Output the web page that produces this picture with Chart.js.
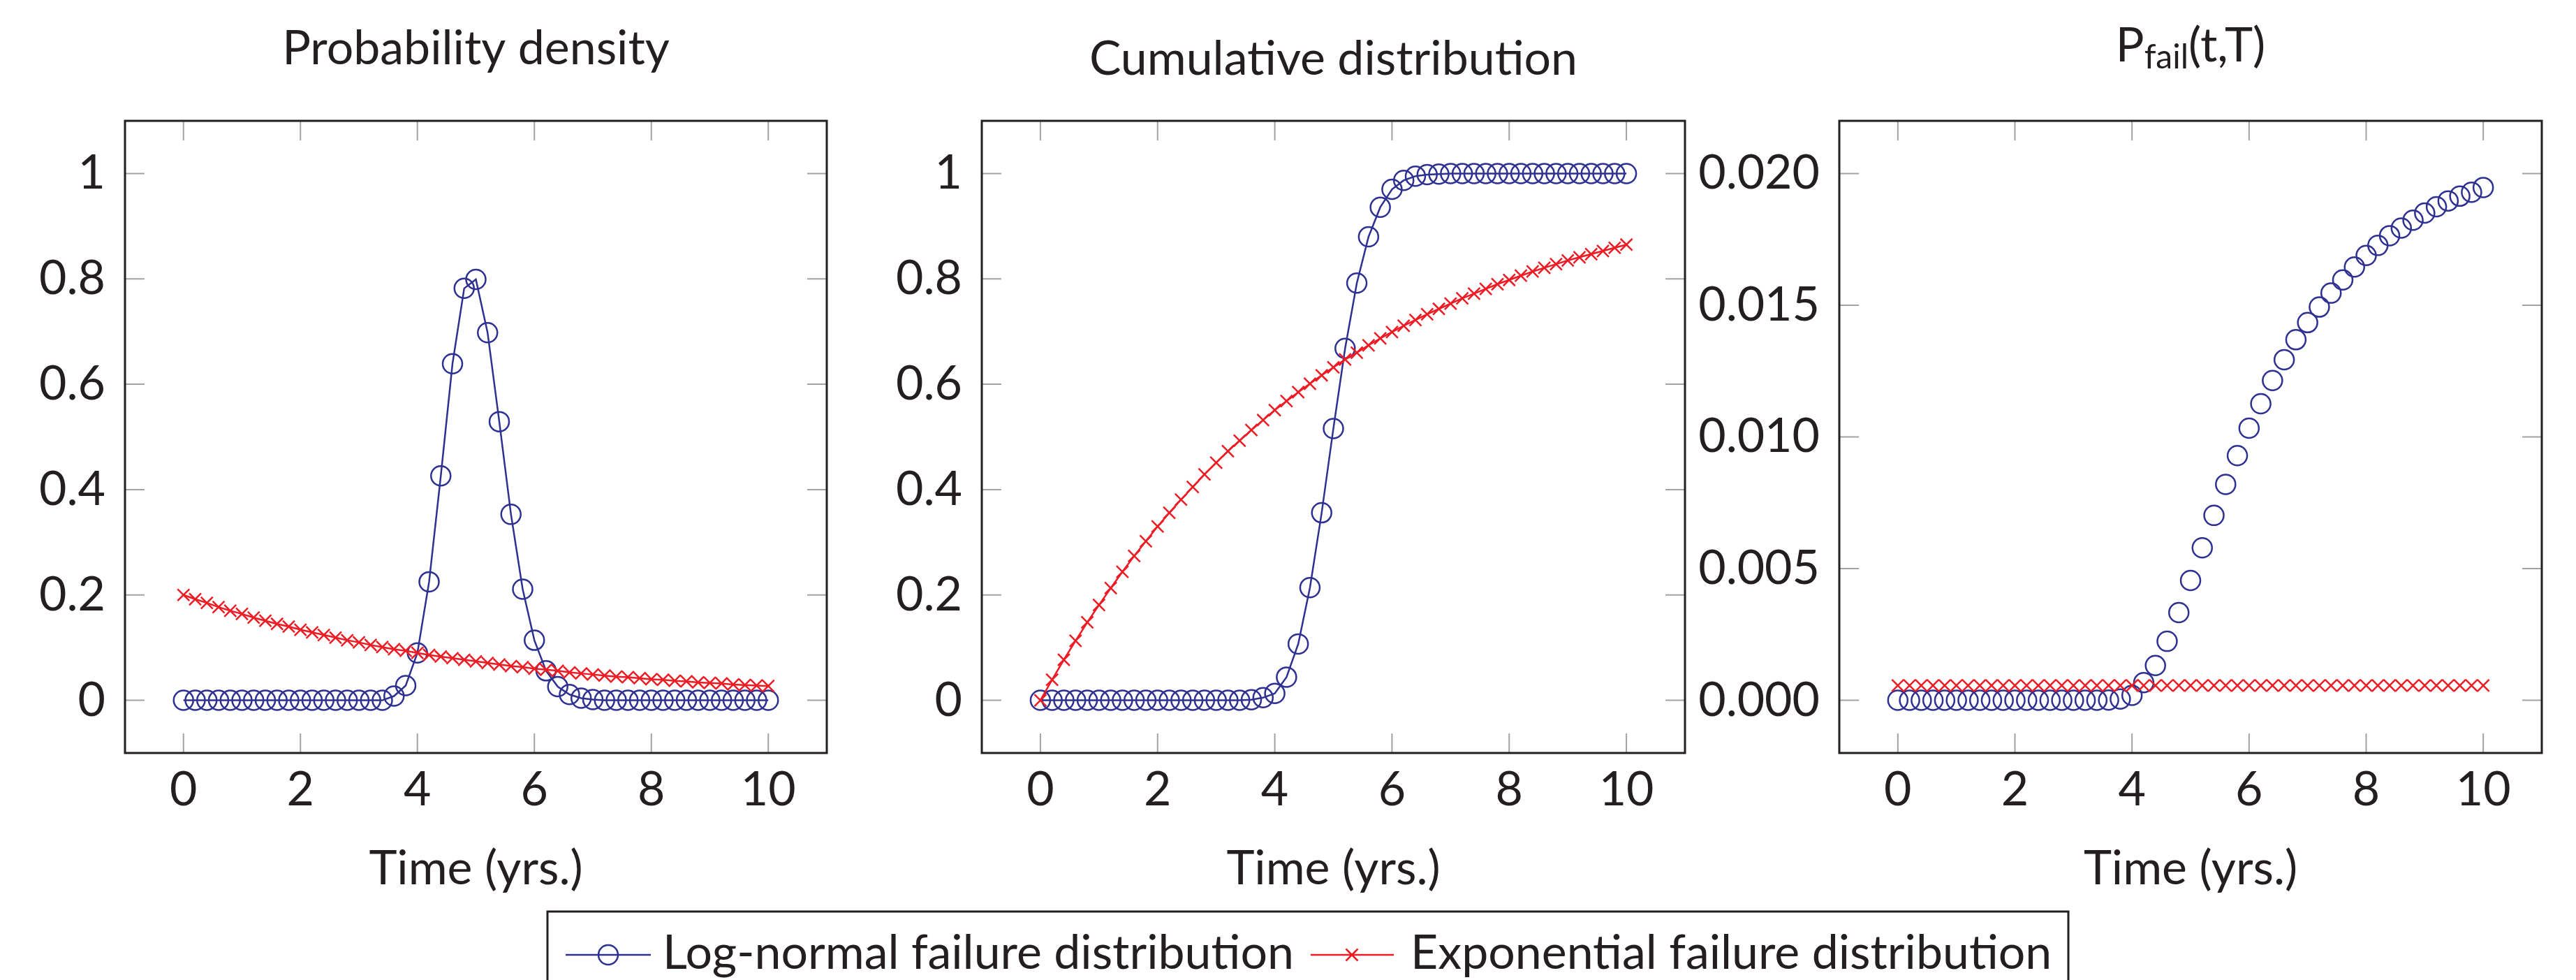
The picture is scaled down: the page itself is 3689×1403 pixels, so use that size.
<!DOCTYPE html>
<html>
<head>
<meta charset="utf-8">
<script src="https://cdn.jsdelivr.net/npm/chart.js@4.4.1/dist/chart.umd.min.js"></script>
<style>
html, body { margin: 0; padding: 0; background: #ffffff; }
body { width: 3689px; height: 1403px; position: relative; overflow: hidden; }
canvas { position: absolute; top: 0; }
svg { position: absolute; left: 0; top: 0; }
</style>
</head>
<body>
<canvas id="c1" width="1228" height="1403" style="left:0px;width:1228px;height:1403px"></canvas>
<canvas id="c2" width="1228" height="1403" style="left:1228px;width:1228px;height:1403px"></canvas>
<canvas id="c3" width="1275" height="1403" style="left:2414px;width:1275px;height:1403px"></canvas>
<svg id="legend" width="3689" height="1403" xmlns="http://www.w3.org/2000/svg"></svg>
<script>
// ---------------- DATA ----------------
const times = [0,0.2,0.4,0.6,0.8,1,1.2,1.4,1.6,1.8,2,2.2,2.4,2.6,2.8,3,3.2,3.4,3.6,3.8,4,4.2,4.4,4.6,4.8,5,5.2,5.4,5.6,5.8,6,6.2,6.4,6.6,6.8,7,7.2,7.4,7.6,7.8,8,8.2,8.4,8.6,8.8,9,9.2,9.4,9.6,9.8,10];

const seriesNames = ['Log-normal failure distribution', 'Exponential failure distribution'];
const panelTitles = ['Probability density', 'Cumulative distribution', 'P_{fail}(t,T)'];
const xAxisTitle = 'Time (yrs.)';

const xTicks = [0, 2, 4, 6, 8, 10];
const yTicksDist = [0, 0.2, 0.4, 0.6, 0.8, 1];
const yTicksPfail = [0, 0.005, 0.01, 0.015, 0.02];

// Probability density
const pdfLogNormal = [0,0,0,0,0,0,0,0,0,0,0,0,0,0,0,0,0,0,0.008,0.028,0.090,0.225,0.426,0.639,0.782,0.799,0.698,0.529,0.353,0.211,0.114,0.056,0.026,0.011,0.004,0.0015,0,0,0,0,0,0,0,0,0,0,0,0,0,0,0];
const pdfExponential = [0.200,0.192,0.185,0.177,0.170,0.164,0.157,0.151,0.145,0.140,0.134,0.129,0.124,0.119,0.114,0.110,0.105,0.101,0.097,0.094,0.090,0.086,0.083,0.080,0.077,0.074,0.071,0.068,0.065,0.063,0.060,0.058,0.056,0.053,0.051,0.049,0.047,0.045,0.044,0.042,0.040,0.039,0.037,0.036,0.034,0.033,0.032,0.030,0.029,0.028,0.027];

// Cumulative distribution
const cdfLogNormal = [0,0,0,0,0,0,0,0,0,0,0,0,0,0,0,0,0,0,0.001,0.005,0.013,0.044,0.107,0.214,0.356,0.516,0.668,0.792,0.880,0.936,0.970,0.987,0.995,0.998,0.999,1,1,1,1,1,1,1,1,1,1,1,1,1,1,1,1];
const cdfExponential = [0,0.039,0.077,0.113,0.148,0.181,0.213,0.244,0.274,0.302,0.330,0.356,0.381,0.405,0.429,0.451,0.473,0.493,0.513,0.532,0.551,0.568,0.585,0.601,0.617,0.632,0.647,0.660,0.674,0.687,0.699,0.711,0.722,0.733,0.743,0.753,0.763,0.772,0.781,0.790,0.798,0.806,0.814,0.821,0.828,0.835,0.841,0.847,0.853,0.859,0.865];

// P_fail(t,T)
const pfailLogNormal = [0,0,0,0,0,0,0,0,0,0,0,0,0,0,0,0,0,0,0.00001,0.00005,0.00019,0.00067,0.00132,0.00224,0.00333,0.00455,0.00579,0.00702,0.0082,0.00929,0.01033,0.01126,0.01214,0.01293,0.01369,0.01434,0.01493,0.01546,0.01596,0.01645,0.01689,0.01727,0.01764,0.01793,0.01823,0.0185,0.01874,0.01896,0.01914,0.01929,0.01947];
const pfailExponential = [0.00056,0.00056,0.00056,0.00056,0.00056,0.00056,0.00056,0.00056,0.00056,0.00056,0.00056,0.00056,0.00056,0.00056,0.00056,0.00056,0.00056,0.00056,0.00056,0.00056,0.00056,0.00056,0.00056,0.00056,0.00056,0.00056,0.00056,0.00056,0.00056,0.00056,0.00056,0.00056,0.00056,0.00056,0.00056,0.00056,0.00056,0.00056,0.00056,0.00056,0.00056,0.00056,0.00056,0.00056,0.00056,0.00056,0.00056,0.00056,0.00056,0.00056,0.00056];

// ---------------- STYLE ----------------
const BLUE = '#2e3192';
const RED = '#ed1c24';
const INK = '#231f20';
const TICKC = '#a3a3a3';
const FONT = 'Lato';
const FS = 68;

Chart.defaults.font.family = FONT;
Chart.defaults.font.size = FS;
Chart.defaults.color = INK;

function pts(ys) { return times.map((t, i) => ({ x: t, y: ys[i] })); }

function drawRichText(ctx, str, cx, baseline) {
  // supports _{...} subscript groups
  const parts = [];
  const re = /_\{([^}]*)\}/g;
  let last = 0, m;
  while ((m = re.exec(str)) !== null) {
    if (m.index > last) parts.push({ t: str.slice(last, m.index), sub: false });
    parts.push({ t: m[1], sub: true });
    last = re.lastIndex;
  }
  if (last < str.length) parts.push({ t: str.slice(last), sub: false });
  const subFS = Math.round(FS * 0.7);
  let total = 0;
  parts.forEach(p => {
    ctx.font = `${p.sub ? subFS : FS}px ${FONT}`;
    p.w = ctx.measureText(p.t).width;
    total += p.w;
  });
  let x = cx - total / 2;
  parts.forEach(p => {
    ctx.font = `${p.sub ? subFS : FS}px ${FONT}`;
    ctx.fillText(p.t, x, baseline + (p.sub ? 10 : 0));
    x += p.w;
  });
}

const panelPlugin = {
  id: 'panelDecor',
  beforeDatasetsDraw(chart, args, opts) {
    const { ctx, chartArea: { left, right, top, bottom }, scales: { x, y } } = chart;
    const TL = 28;
    ctx.save();
    ctx.strokeStyle = TICKC;
    ctx.lineWidth = 2;
    ctx.beginPath();
    x.ticks.forEach(t => {
      const px = x.getPixelForValue(t.value);
      ctx.moveTo(px, bottom); ctx.lineTo(px, bottom - TL);
      ctx.moveTo(px, top); ctx.lineTo(px, top + TL);
    });
    y.ticks.forEach(t => {
      const py = y.getPixelForValue(t.value);
      ctx.moveTo(left, py); ctx.lineTo(left + TL, py);
      ctx.moveTo(right, py); ctx.lineTo(right - TL, py);
    });
    ctx.stroke();
    ctx.restore();
  },
  afterDatasetsDraw(chart, args, opts) {
    const { ctx, chartArea: { left, right, top, bottom } } = chart;
    ctx.save();
    ctx.strokeStyle = INK;
    ctx.lineWidth = 3;
    ctx.strokeRect(left, top, right - left, bottom - top);
    ctx.fillStyle = INK;
    ctx.textAlign = 'left';
    ctx.textBaseline = 'alphabetic';
    drawRichText(ctx, opts.title, (left + right) / 2, opts.baseline);
    ctx.restore();
  }
};

function makeChart(id, blueYs, redYs, yMin, yMax, yTickVals, yFmt, yWidth, padRight, showLines, titleIdx, titleBaseline) {
  const ctx = document.getElementById(id);
  return new Chart(ctx, {
    type: 'scatter',
    data: {
      datasets: [
        {
          label: seriesNames[0],
          data: pts(blueYs),
          showLine: showLines,
          borderColor: BLUE,
          borderWidth: 2.5,
          pointStyle: 'circle',
          pointRadius: 14,
          pointBorderWidth: 2.5,
          pointBorderColor: BLUE,
          pointBackgroundColor: 'rgba(0,0,0,0)',
          order: 1
        },
        {
          label: seriesNames[1],
          data: pts(redYs),
          showLine: showLines,
          borderColor: RED,
          borderWidth: 2.5,
          pointStyle: 'crossRot',
          pointRadius: 12,
          pointBorderWidth: 2.5,
          pointBorderColor: RED,
          pointBackgroundColor: RED,
          order: 0
        }
      ]
    },
    options: {
      responsive: false,
      animation: false,
      devicePixelRatio: 1,
      layout: { padding: { top: 173, right: padRight, bottom: 0, left: 0 } },
      plugins: {
        legend: { display: false },
        tooltip: { enabled: false },
        panelDecor: { title: panelTitles[titleIdx], baseline: titleBaseline }
      },
      scales: {
        x: {
          type: 'linear',
          min: -1, max: 11,
          afterBuildTicks: s => { s.ticks = xTicks.map(v => ({ value: v })); },
          afterFit: s => { s.height = 325; },
          grid: { display: false, drawTicks: false },
          border: { display: false },
          ticks: { padding: 12, autoSkip: false, maxRotation: 0, callback: v => String(v) },
          title: { display: true, text: xAxisTitle, padding: { top: 0, bottom: 118 } }
        },
        y: {
          type: 'linear',
          min: yMin, max: yMax,
          afterBuildTicks: s => { s.ticks = yTickVals.map(v => ({ value: v })); },
          afterFit: s => { s.width = yWidth; },
          grid: { display: false, drawTicks: false },
          border: { display: false },
          ticks: { padding: 28, autoSkip: false, callback: yFmt }
        }
      }
    },
    plugins: [panelPlugin]
  });
}

const fmtDist = v => String(parseFloat(Number(v).toFixed(2)));
const fmtPfail = v => Number(v).toFixed(3);

makeChart('c1', pdfLogNormal, pdfExponential, -0.1, 1.1, yTicksDist, fmtDist, 179, 44, true, 0, 92);
makeChart('c2', cdfLogNormal, cdfExponential, -0.1, 1.1, yTicksDist, fmtDist, 178, 43, true, 1, 107);
makeChart('c3', pfailLogNormal, pfailExponential, -0.002, 0.022, yTicksPfail, fmtPfail, 220, 49, false, 2, 88);

// ---------------- LEGEND (svg, real text) ----------------
(function buildLegend() {
  const svg = document.getElementById('legend');
  const NS = 'http://www.w3.org/2000/svg';
  function el(name, attrs, text) {
    const e = document.createElementNS(NS, name);
    Object.keys(attrs).forEach(k => e.setAttribute(k, attrs[k]));
    if (text !== undefined) e.textContent = text;
    svg.appendChild(e);
    return e;
  }
  el('rect', { x: 784, y: 1305, width: 2178, height: 200, fill: '#ffffff', stroke: INK, 'stroke-width': 3 });
  const lineY = 1367, textY = 1387;
  // item 1
  el('line', { x1: 810, y1: lineY, x2: 932, y2: lineY, stroke: BLUE, 'stroke-width': 2.5 });
  el('circle', { cx: 871, cy: lineY, r: 14, fill: 'none', stroke: BLUE, 'stroke-width': 2.5 });
  el('text', { x: 949, y: textY, 'font-family': FONT, 'font-size': FS, fill: INK }, seriesNames[0]);
  // item 2
  el('line', { x1: 1877, y1: lineY, x2: 1996, y2: lineY, stroke: RED, 'stroke-width': 2.5 });
  const cx = 1936, d = 8.5;
  el('path', { d: `M${cx - d} ${lineY - d} L${cx + d} ${lineY + d} M${cx - d} ${lineY + d} L${cx + d} ${lineY - d}`, stroke: RED, 'stroke-width': 2.5, fill: 'none' });
  el('text', { x: 2020, y: textY, 'font-family': FONT, 'font-size': FS, fill: INK }, seriesNames[1]);
})();
</script>
</body>
</html>
